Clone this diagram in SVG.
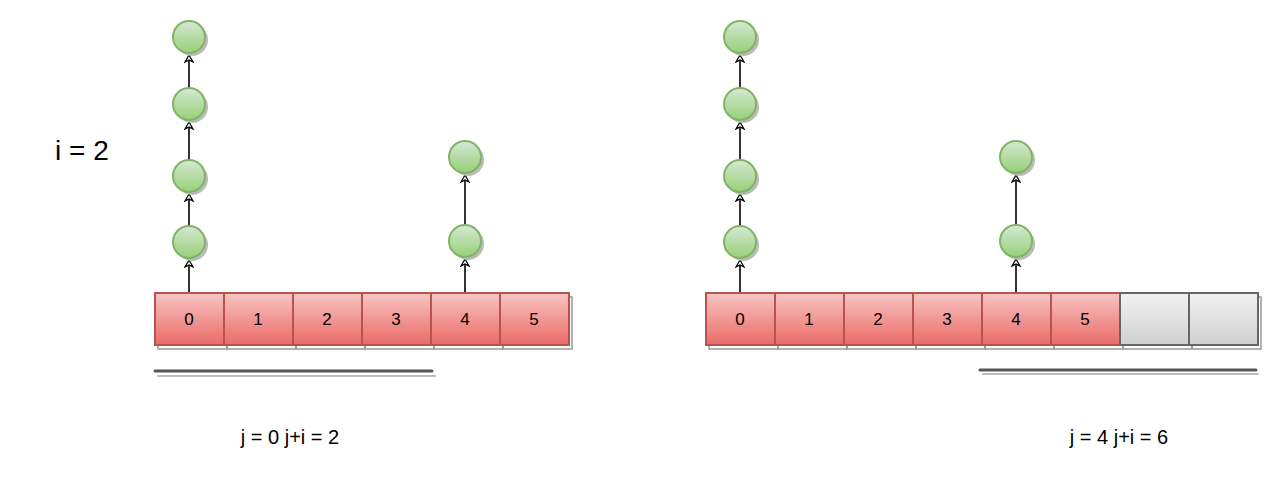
<svg xmlns="http://www.w3.org/2000/svg" width="1280" height="497" viewBox="0 0 1280 497">
<style>
.cell{fill:url(#rg);stroke:#b85450;stroke-width:2}
.sh{fill:none;stroke:#999;stroke-width:1.5}
.gcell{fill:url(#gg);stroke:#666;stroke-width:2}
.node{fill:url(#ng);stroke:#82b366;stroke-width:2}
.nsh{fill:#bbb}
.t{font-family:"Liberation Sans",Arial,sans-serif;font-size:17px;text-anchor:middle;fill:#000}
.lbl{font-family:"Liberation Sans",Arial,sans-serif;fill:#000}
.c{stroke:#000;stroke-width:1.6;fill:none;marker-end:url(#ah)}
.ul{stroke:#555;stroke-width:3;stroke-linecap:round}
.ul2{stroke:#bbb;stroke-width:2;stroke-linecap:round}
</style>
<defs>
<linearGradient id="rg" x1="0" y1="0" x2="0" y2="1"><stop offset="0" stop-color="#f8c4c4"/><stop offset="1" stop-color="#ea6b66"/></linearGradient>
<linearGradient id="gg" x1="0" y1="0" x2="0" y2="1"><stop offset="0" stop-color="#f2f2f2"/><stop offset="1" stop-color="#d0d0d0"/></linearGradient>
<linearGradient id="ng" x1="0" y1="0" x2="0" y2="1"><stop offset="0" stop-color="#d5e8d4"/><stop offset="1" stop-color="#97d077"/></linearGradient>
<marker id="ah" markerWidth="10" markerHeight="10" refX="8" refY="5" orient="auto" markerUnits="userSpaceOnUse"><path d="M1,1 L8,5 L1,9 L3,5 Z" fill="#fff" stroke="#000" stroke-width="1.3"/></marker>
</defs>
<text class="lbl" x="55" y="160" font-size="28">i = 2</text>
<g id="connectors">
<line class="c" x1="189" y1="292" x2="189" y2="260"/>
<line class="c" x1="189" y1="226" x2="189" y2="194"/>
<line class="c" x1="189" y1="160" x2="189" y2="122"/>
<line class="c" x1="189" y1="88" x2="189" y2="55"/>
<line class="c" x1="465" y1="292" x2="465" y2="259"/>
<line class="c" x1="465" y1="225" x2="465" y2="175"/>
<line class="c" x1="740" y1="292" x2="740" y2="260"/>
<line class="c" x1="740" y1="226" x2="740" y2="194"/>
<line class="c" x1="740" y1="160" x2="740" y2="122"/>
<line class="c" x1="740" y1="88" x2="740" y2="55"/>
<line class="c" x1="1016" y1="292" x2="1016" y2="259"/>
<line class="c" x1="1016" y1="225" x2="1016" y2="175"/>
</g>
<g id="left-array">
<g id="l0"><rect class="sh" x="158" y="297" width="69" height="52"/><rect class="cell" x="155" y="293" width="69" height="52"/><text class="t" x="189" y="325">0</text></g>
<g id="l1"><rect class="sh" x="227" y="297" width="69" height="52"/><rect class="cell" x="224" y="293" width="69" height="52"/><text class="t" x="258" y="325">1</text></g>
<g id="l2"><rect class="sh" x="296" y="297" width="69" height="52"/><rect class="cell" x="293" y="293" width="69" height="52"/><text class="t" x="327" y="325">2</text></g>
<g id="l3"><rect class="sh" x="365" y="297" width="69" height="52"/><rect class="cell" x="362" y="293" width="69" height="52"/><text class="t" x="396" y="325">3</text></g>
<g id="l4"><rect class="sh" x="434" y="297" width="69" height="52"/><rect class="cell" x="431" y="293" width="69" height="52"/><text class="t" x="465" y="325">4</text></g>
<g id="l5"><rect class="sh" x="503" y="297" width="69" height="52"/><rect class="cell" x="500" y="293" width="69" height="52"/><text class="t" x="534" y="325">5</text></g>
</g>
<g id="right-array">
<g id="r0"><rect class="sh" x="709" y="297" width="69" height="52"/><rect class="cell" x="706" y="293" width="69" height="52"/><text class="t" x="740" y="325">0</text></g>
<g id="r1"><rect class="sh" x="778" y="297" width="69" height="52"/><rect class="cell" x="775" y="293" width="69" height="52"/><text class="t" x="809" y="325">1</text></g>
<g id="r2"><rect class="sh" x="847" y="297" width="69" height="52"/><rect class="cell" x="844" y="293" width="69" height="52"/><text class="t" x="878" y="325">2</text></g>
<g id="r3"><rect class="sh" x="916" y="297" width="69" height="52"/><rect class="cell" x="913" y="293" width="69" height="52"/><text class="t" x="947" y="325">3</text></g>
<g id="r4"><rect class="sh" x="985" y="297" width="69" height="52"/><rect class="cell" x="982" y="293" width="69" height="52"/><text class="t" x="1016" y="325">4</text></g>
<g id="r5"><rect class="sh" x="1054" y="297" width="69" height="52"/><rect class="cell" x="1051" y="293" width="69" height="52"/><text class="t" x="1085" y="325">5</text></g>
<g id="r6"><rect class="sh" x="1123" y="297" width="69" height="52"/><rect class="gcell" x="1120" y="293" width="69" height="52"/></g>
<g id="r7"><rect class="sh" x="1192" y="297" width="69" height="52"/><rect class="gcell" x="1189" y="293" width="69" height="52"/></g>
</g>
<g id="nodes">
<g id="n1"><circle class="nsh" cx="192" cy="245" r="16"/><circle class="node" cx="189" cy="242" r="16"/></g>
<g id="n2"><circle class="nsh" cx="192" cy="179" r="16"/><circle class="node" cx="189" cy="176" r="16"/></g>
<g id="n3"><circle class="nsh" cx="192" cy="107" r="16"/><circle class="node" cx="189" cy="104" r="16"/></g>
<g id="n4"><circle class="nsh" cx="192" cy="40" r="16"/><circle class="node" cx="189" cy="37" r="16"/></g>
<g id="n5"><circle class="nsh" cx="468" cy="244" r="16"/><circle class="node" cx="465" cy="241" r="16"/></g>
<g id="n6"><circle class="nsh" cx="468" cy="160" r="16"/><circle class="node" cx="465" cy="157" r="16"/></g>
<g id="n7"><circle class="nsh" cx="743" cy="245" r="16"/><circle class="node" cx="740" cy="242" r="16"/></g>
<g id="n8"><circle class="nsh" cx="743" cy="179" r="16"/><circle class="node" cx="740" cy="176" r="16"/></g>
<g id="n9"><circle class="nsh" cx="743" cy="107" r="16"/><circle class="node" cx="740" cy="104" r="16"/></g>
<g id="n10"><circle class="nsh" cx="743" cy="40" r="16"/><circle class="node" cx="740" cy="37" r="16"/></g>
<g id="n11"><circle class="nsh" cx="1019" cy="244" r="16"/><circle class="node" cx="1016" cy="241" r="16"/></g>
<g id="n12"><circle class="nsh" cx="1019" cy="160" r="16"/><circle class="node" cx="1016" cy="157" r="16"/></g>
</g>
<line class="ul2" x1="158" y1="376" x2="435" y2="376"/>
<line class="ul" x1="155" y1="371" x2="432" y2="371"/>
<line class="ul2" x1="983" y1="374" x2="1258" y2="374"/>
<line class="ul" x1="980" y1="370" x2="1256" y2="370"/>
<text class="lbl" x="290" y="444" font-size="20" text-anchor="middle">j = 0 j+i = 2</text>
<text class="lbl" x="1119" y="444" font-size="20" text-anchor="middle">j = 4 j+i = 6</text>
</svg>
